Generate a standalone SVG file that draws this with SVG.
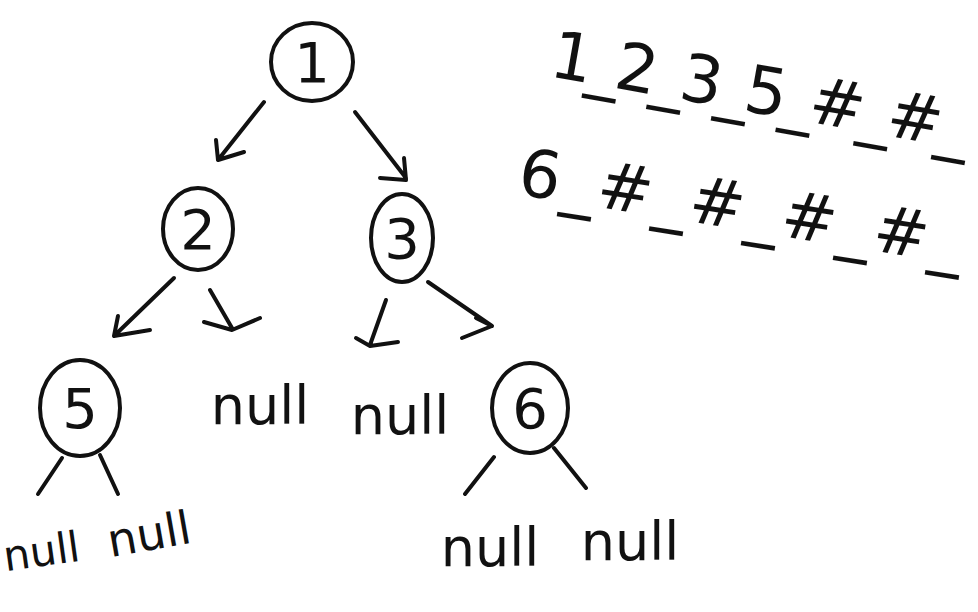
<svg xmlns="http://www.w3.org/2000/svg" width="978" height="612" viewBox="0 0 978 612">
<style>
.n{fill:none;stroke:#111;stroke-width:4;stroke-linecap:round}
.c{fill:none;stroke:#111;stroke-width:4;stroke-linecap:round;stroke-linejoin:round}
.t{font-family:"DejaVu Sans","Liberation Sans",sans-serif;fill:#111;text-anchor:middle}
.lbl{font-size:56px}
.nl{font-size:54px}
.seq{font-family:"DejaVu Sans","Liberation Sans",sans-serif;fill:#111;font-size:66px}
</style>
<rect width="978" height="612" fill="#fff"/>
<g id="node1"><ellipse class="n" cx="312" cy="62" rx="41" ry="39"/><text class="t lbl" x="312" y="82">1</text></g>
<g id="node2"><ellipse class="n" cx="198" cy="229" rx="35" ry="41"/><text class="t lbl" x="198" y="249">2</text></g>
<g id="node3"><ellipse class="n" cx="402" cy="238" rx="31" ry="44"/><text class="t lbl" x="402" y="258">3</text></g>
<g id="node5"><ellipse class="n" cx="80" cy="408" rx="40" ry="48"/><text class="t lbl" x="80" y="428">5</text></g>
<g id="node6"><ellipse class="n" cx="530" cy="408" rx="38" ry="45"/><text class="t lbl" x="530" y="428">6</text></g>
<g id="null_2r"><text class="t nl" x="260" y="424">null</text></g>
<g id="null_3l"><text class="t nl" x="400" y="434">null</text></g>
<g id="null_5l"><text class="t" style="font-size:42px" x="42" y="566" transform="rotate(-8 42 556)">null</text></g>
<g id="null_5r"><text class="t" style="font-size:46px" x="150" y="550" transform="rotate(-10 150 540)">null</text></g>
<g id="null_6l"><text class="t nl" x="490" y="566">null</text></g>
<g id="null_6r"><text class="t nl" x="630" y="560">null</text></g>
<g id="connectors">
<path class="c" d="M264 102 L218 160 M216 140 L218 160 L244 152"/>
<path class="c" d="M355 112 L406 178 M380 178 L406 180 L404 158"/>
<path class="c" d="M174 278 L114 336 M118 316 L114 336 L150 330"/>
<path class="c" d="M210 290 L232 328 M204 322 L232 330 L260 318"/>
<path class="c" d="M386 300 L370 345 M356 338 L370 346 L398 342"/>
<path class="c" d="M428 282 L492 326 M462 338 L492 326 L476 318"/>
<path class="c" d="M62 458 L38 494 M100 455 L118 494"/>
<path class="c" d="M494 457 L465 494 M554 448 L586 488"/>
</g>
<g id="sequence">
<text class="seq" x="548" y="76" textLength="425" lengthAdjust="spacing" transform="rotate(10 548 76)">1_2_3_5_#_#_</text>
<text class="seq" x="516" y="194" textLength="450" lengthAdjust="spacing" transform="rotate(9 516 194)">6_#_#_#_#_</text>
</g>
</svg>
